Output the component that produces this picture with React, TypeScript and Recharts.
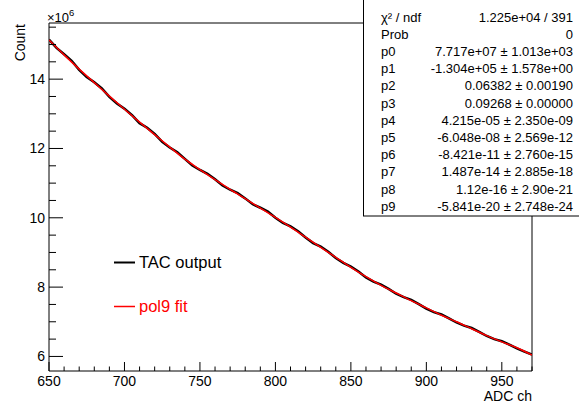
import { LineChart, Line, XAxis, YAxis, ReferenceArea } from 'recharts';

// TAC output, counts in units of 10^6, one point every 5 ADC channels
const adcChannels = [
  650, 655, 660, 665, 670, 675, 680, 685, 690, 695, 700, 705, 710, 715, 720, 725, 730,
  735, 740, 745, 750, 755, 760, 765, 770, 775, 780, 785, 790, 795, 800, 805, 810, 815,
  820, 825, 830, 835, 840, 845, 850, 855, 860, 865, 870, 875, 880, 885, 890, 895, 900,
  905, 910, 915, 920, 925, 930, 935, 940, 945, 950, 955, 960, 965, 970,
];
const tacCounts = [
  15.14, 14.9, 14.72, 14.53, 14.27, 14.06, 13.91, 13.73, 13.49, 13.3, 13.15, 12.96, 12.73,
  12.6, 12.42, 12.19, 12.03, 11.89, 11.7, 11.51, 11.38, 11.27, 11.11, 10.93, 10.81, 10.71,
  10.56, 10.39, 10.29, 10.18, 10.0, 9.85, 9.75, 9.61, 9.43, 9.27, 9.17, 9.02, 8.84, 8.7,
  8.59, 8.45, 8.28, 8.16, 8.07, 7.95, 7.81, 7.71, 7.63, 7.51, 7.38, 7.28, 7.21, 7.1, 6.98,
  6.89, 6.82, 6.71, 6.59, 6.5, 6.44, 6.34, 6.23, 6.14, 6.05,
];

// pol9 fit curve
const fitChannels = [
  650, 660, 670, 680, 690, 700, 710, 720, 730, 740, 750, 760, 770, 780, 790, 800, 810,
  820, 830, 840, 850, 860, 870, 880, 890, 900, 910, 920, 930, 940, 950, 960, 970,
];
const fitCounts = [
  15.13, 14.7, 14.29, 13.9, 13.51, 13.13, 12.76, 12.4, 12.04, 11.69, 11.39, 11.1, 10.82,
  10.55, 10.28, 10.01, 9.73, 9.44, 9.15, 8.86, 8.57, 8.3, 8.05, 7.83, 7.61, 7.4, 7.19, 7.0,
  6.8, 6.6, 6.42, 6.25, 6.04,
];

const xTicks = [
  650, 660, 670, 680, 690, 700, 710, 720, 730, 740, 750, 760, 770, 780, 790, 800, 810,
  820, 830, 840, 850, 860, 870, 880, 890, 900, 910, 920, 930, 940, 950, 960, 970,
];
const yTicks = [6, 6.5, 7, 7.5, 8, 8.5, 9, 9.5, 10, 10.5, 11, 11.5, 12, 12.5, 13, 13.5, 14, 14.5, 15, 15.5];

const statNames = ['χ² / ndf', 'Prob', 'p0', 'p1', 'p2', 'p3', 'p4', 'p5', 'p6', 'p7', 'p8', 'p9'];
const statValues = [
  '1.225e+04 / 391',
  '0',
  '7.717e+07 ± 1.013e+03',
  '-1.304e+05 ± 1.578e+00',
  '0.06382 ± 0.00190',
  '0.09268 ± 0.00000',
  '4.215e-05 ± 2.350e-09',
  '-6.048e-08 ± 2.569e-12',
  '-8.421e-11 ± 2.760e-15',
  '1.487e-14 ± 2.885e-18',
  '1.12e-16 ± 2.90e-21',
  '-5.841e-20 ± 2.748e-24',
];

const X_MIN = 650;
const X_MAX = 970;
const Y_MIN = 5.58;
const Y_MAX = 15.62;

const FONT = '"Liberation Sans", Arial, Helvetica, sans-serif';

const tacData = adcChannels.map((adc, i) => ({ adc, count: tacCounts[i] }));
const fitData = fitChannels.map((adc, i) => ({ adc, count: fitCounts[i] }));

const XTick = (props: any) => {
  const { x, y, payload } = props;
  const major = payload.value % 50 === 0;
  return (
    <g>
      <line x1={x} x2={x} y1={y} y2={y - (major ? 9 : 4.5)} stroke="#000" />
      {major && (
        <text x={x} y={y + 15} textAnchor="middle" fontSize={14} fontFamily={FONT} fill="#000">
          {payload.value}
        </text>
      )}
    </g>
  );
};

const YTick = (props: any) => {
  const { x, y, payload } = props;
  const major = payload.value % 2 === 0;
  return (
    <g>
      <line x1={x} x2={x + (major ? 14 : 7)} y1={y} y2={y} stroke="#000" />
      {major && (
        <text x={x - 4} y={y + 5} textAnchor="end" fontSize={14} fontFamily={FONT} fill="#000">
          {payload.value}
        </text>
      )}
    </g>
  );
};

export default function App() {
  return (
    <div style={{ position: 'absolute', left: 0, top: 0, width: 579, height: 405, background: '#fff' }}>
      <LineChart width={579} height={405} margin={{ top: 23, right: 47, left: 0, bottom: 0 }}>
        <XAxis
          dataKey="adc"
          type="number"
          domain={[X_MIN, X_MAX]}
          ticks={xTicks}
          interval={0}
          height={34}
          axisLine={false}
          tickLine={false}
          tickSize={0}
          tickMargin={0}
          tick={<XTick />}
          allowDataOverflow
        />
        <YAxis
          type="number"
          domain={[Y_MIN, Y_MAX]}
          ticks={yTicks}
          interval={0}
          width={49}
          axisLine={false}
          tickLine={false}
          tickSize={0}
          tickMargin={0}
          tick={<YTick />}
          allowDataOverflow
        />
        <ReferenceArea x1={X_MIN} x2={X_MAX} y1={Y_MIN} y2={Y_MAX} fill="none" stroke="#000" strokeWidth={1} />
        <Line
          data={tacData}
          dataKey="count"
          stroke="#000"
          strokeWidth={2.5}
          dot={false}
          isAnimationActive={false}
          type="linear"
        />
        <Line
          data={fitData}
          dataKey="count"
          stroke="#ff0000"
          strokeWidth={1.5}
          dot={false}
          isAnimationActive={false}
          type="monotone"
        />
      </LineChart>

      <svg
        width={579}
        height={405}
        style={{ position: 'absolute', left: 0, top: 0, pointerEvents: 'none' }}
        fontFamily={FONT}
      >
        {/* axis titles */}
        <text transform="translate(25,24) rotate(-90)" textAnchor="end" fontSize={14} fill="#000">
          Count
        </text>
        <text x={532} y={401} textAnchor="end" fontSize={14} fill="#000">
          ADC ch
        </text>
        <text x={47} y={22} fontSize={13} fill="#000">
          ×10
          <tspan fontSize={9.5} dy={-6}>6</tspan>
        </text>

        {/* legend */}
        <line x1={114} x2={135} y1={262.5} y2={262.5} stroke="#000" strokeWidth={2} />
        <text x={139} y={268} fontSize={16.5} fill="#000">
          TAC output
        </text>
        <line x1={114} x2={135} y1={306.5} y2={306.5} stroke="#ff0000" strokeWidth={1.5} />
        <text x={139} y={312} fontSize={16.5} fill="#ff0000">
          pol9 fit
        </text>

        {/* fit statistics box */}
        <rect x={363.5} y={-1} width={220} height={217} fill="#fff" stroke="#000" strokeWidth={1} />
        {statNames.map((name, i) => (
          <g key={name}>
            <text x={381} y={21.5 + i * 17.2} fontSize={13} fill="#000">
              {name}
            </text>
            <text x={573} y={21.5 + i * 17.2} fontSize={13} textAnchor="end" fill="#000">
              {statValues[i]}
            </text>
          </g>
        ))}
      </svg>
    </div>
  );
}
